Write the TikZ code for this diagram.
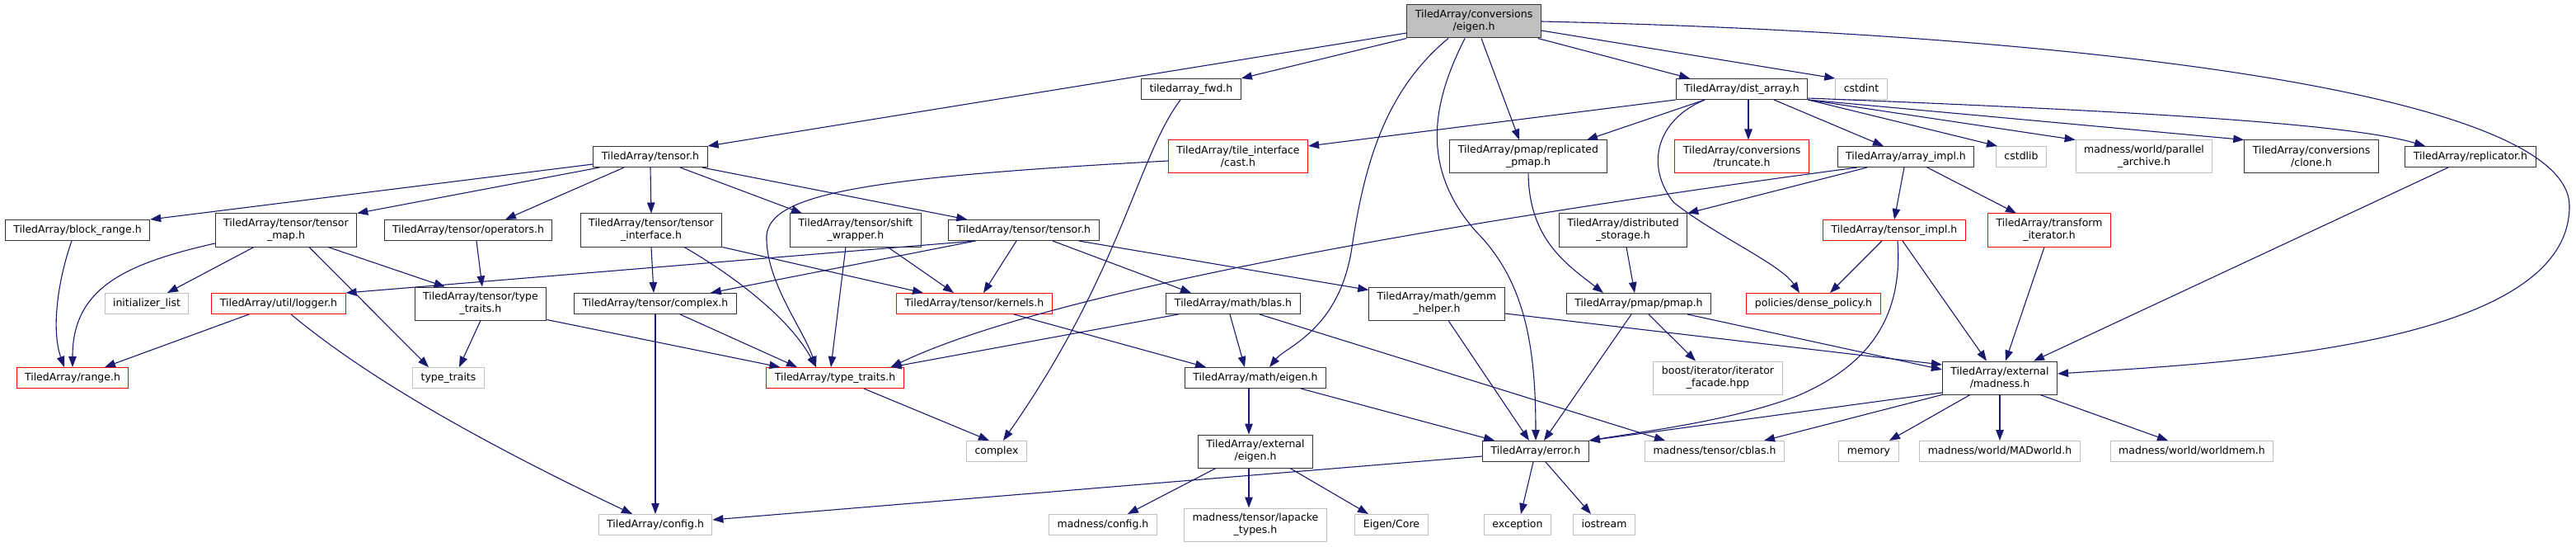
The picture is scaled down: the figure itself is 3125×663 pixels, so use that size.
\documentclass[tikz,border=0pt]{standalone}
\usepackage{fontspec}
\setmainfont{DejaVu Sans}
\usetikzlibrary{arrows.meta}
\definecolor{edgeblue}{HTML}{191970}
\definecolor{extgray}{HTML}{BFBFBF}
\definecolor{cutred}{HTML}{FF0000}

\begin{document}
\begin{tikzpicture}[x=1pt,y=-1pt,
  hbox/.style={draw=black!80, line width=1pt, font=\fontsize{12.5}{15}\selectfont,
    inner xsep=10pt, inner ysep=0pt, minimum height=25pt, text height=9.5pt, text depth=3pt},
  hbox2/.style={draw=black!80, line width=1pt, font=\fontsize{12.5}{15}\selectfont,
    inner xsep=10pt, inner ysep=0pt, minimum height=40pt, align=center},
  ext/.style={draw=extgray},
  cut/.style={draw=cutred},
  rootfill/.style={fill=extgray},
  incl/.style={draw=edgeblue, line width=1.1pt, -{Triangle[length=13pt,width=9.5pt]}}]
\useasboundingbox (0,0) rectangle (3125,663);
\node[hbox2, rootfill] (conv) at (1788,26) {TiledArray/conversions\\/eigen.h};
\node[hbox] (fwd) at (1445,108) {tiledarray\_fwd.h};
\node[hbox] (dist) at (2113,108) {TiledArray/dist\_array.h};
\node[hbox, ext] (cstdint) at (2258,108) {cstdint};
\node[hbox] (tensor) at (789,190) {TiledArray/tensor.h};
\node[hbox2, cut] (cast) at (1502,190) {TiledArray/tile\_interface\\/cast.h};
\node[hbox2] (reppmap) at (1854,190) {TiledArray/pmap/replicated\\\_pmap.h};
\node[hbox2, cut] (truncate) at (2113,190) {TiledArray/conversions\\/truncate.h};
\node[hbox] (arrayimpl) at (2312,190) {TiledArray/array\_impl.h};
\node[hbox, ext] (cstdlib) at (2452,190) {cstdlib};
\node[hbox2, ext] (archive) at (2601,190) {madness/world/parallel\\\_archive.h};
\node[hbox2] (clone) at (2804,190) {TiledArray/conversions\\/clone.h};
\node[hbox] (replicator) at (2997,190) {TiledArray/replicator.h};
\node[hbox] (blockrange) at (94,279) {TiledArray/block\_range.h};
\node[hbox2] (tensormap) at (347,279) {TiledArray/tensor/tensor\\\_map.h};
\node[hbox] (operators) at (568,279) {TiledArray/tensor/operators.h};
\node[hbox2] (tensoriface) at (790,279) {TiledArray/tensor/tensor\\\_interface.h};
\node[hbox2] (shiftwrap) at (1038,279) {TiledArray/tensor/shift\\\_wrapper.h};
\node[hbox] (tentensor) at (1242,279) {TiledArray/tensor/tensor.h};
\node[hbox2] (diststorage) at (1969,279) {TiledArray/distributed\\\_storage.h};
\node[hbox, cut] (tensorimpl) at (2298,279) {TiledArray/tensor\_impl.h};
\node[hbox2, cut] (transiter) at (2486,279) {TiledArray/transform\\\_iterator.h};
\node[hbox, ext] (initlist) at (178,368) {initializer\_list};
\node[hbox, cut] (logger) at (338,368) {TiledArray/util/logger.h};
\node[hbox2] (tentraits) at (583,368) {TiledArray/tensor/type\\\_traits.h};
\node[hbox] (tencomplex) at (795,368) {TiledArray/tensor/complex.h};
\node[hbox, cut] (kernels) at (1182,368) {TiledArray/tensor/kernels.h};
\node[hbox] (blas) at (1496,368) {TiledArray/math/blas.h};
\node[hbox2] (gemm) at (1743,368) {TiledArray/math/gemm\\\_helper.h};
\node[hbox] (pmap) at (1988,368) {TiledArray/pmap/pmap.h};
\node[hbox, cut] (densepolicy) at (2200,368) {policies/dense\_policy.h};
\node[hbox, cut] (range) at (88,458) {TiledArray/range.h};
\node[hbox, ext] (stdtraits) at (544,458) {type\_traits};
\node[hbox, cut] (typetraits) at (1013,458) {TiledArray/type\_traits.h};
\node[hbox] (matheigen) at (1523,458) {TiledArray/math/eigen.h};
\node[hbox2, ext] (boostfacade) at (2084,458) {boost/iterator/iterator\\\_facade.hpp};
\node[hbox2] (madness) at (2426,458) {TiledArray/external\\/madness.h};
\node[hbox, ext] (stdcomplex) at (1209,547) {complex};
\node[hbox2] (exteigen) at (1523,547) {TiledArray/external\\/eigen.h};
\node[hbox] (error) at (1863,547) {TiledArray/error.h};
\node[hbox, ext] (cblas) at (2080,547) {madness/tensor/cblas.h};
\node[hbox, ext] (memory) at (2267,547) {memory};
\node[hbox, ext] (madworld) at (2426,547) {madness/world/MADworld.h};
\node[hbox, ext] (worldmem) at (2659,547) {madness/world/worldmem.h};
\node[hbox, ext] (config) at (795,636) {TiledArray/config.h};
\node[hbox, ext] (madconfig) at (1338,636) {madness/config.h};
\node[hbox2, ext] (lapacke) at (1523,636) {madness/tensor/lapacke\\\_types.h};
\node[hbox, ext] (eigencore) at (1688,636) {Eigen/Core};
\node[hbox, ext] (exception) at (1841,636) {exception};
\node[hbox, ext] (iostream) at (1946,636) {iostream};
\draw[incl] ([yshift=-14pt]conv.west) -- (tensor.north east);
\draw[incl] (conv.south west) -- (fwd.north east);
\draw[incl] ([yshift=-11pt]conv.east) -- (cstdint.north west);
\draw[incl] ([xshift=-4pt]conv.south east) -- ([xshift=-63pt]dist.north);
\draw[incl] ([xshift=9pt]conv.south) -- ([xshift=-11pt]reppmap.north);
\draw[incl] ([xshift=-11pt]conv.south) .. controls (1740,120) and (1720,200) .. (1790,280) .. controls (1850,340) and (1863,420) .. (error.north);
\draw[incl] ([xshift=-31pt]conv.south) .. controls (1680,110) and (1655,200) .. (1640,300) .. controls (1625,400) and (1560,420) .. ([xshift=17pt]matheigen.north);
\draw[incl] (conv.east) .. controls (2500,40) and (3117,110) .. (3117,250) .. controls (3117,420) and (2700,440) .. ([yshift=5pt]madness.east);
\draw[incl] ([xshift=-13pt]fwd.south) .. controls (1380,190) and (1360,330) .. ([xshift=8pt]stdcomplex.north);
\draw[incl] (dist.south west) -- ([yshift=13pt]cast.east);
\draw[incl] ([xshift=-45pt]dist.south) -- ([xshift=71pt]reppmap.north);
\draw[incl] ([xshift=-45pt]dist.south) .. controls (2010,145) and (1995,200) .. (2030,245) .. controls (2080,285) and (2160,320) .. ([xshift=-17pt]densepolicy.north);
\draw[incl] ([xshift=8pt]dist.south) -- ([xshift=8pt]truncate.north);
\draw[incl] ([xshift=39pt]dist.south) -- ([xshift=-27pt]arrayimpl.north);
\draw[incl] (dist.south east) -- ([xshift=-29pt]cstdlib.north);
\draw[incl] (dist.south east) -- (archive.north west);
\draw[incl] (dist.south east) -- (clone.north west);
\draw[incl] ([yshift=2pt]dist.south east) .. controls (2600,135) and (2850,150) .. ([xshift=-55pt]replicator.north);
\draw[incl] ([yshift=-9pt]tensor.west) -- (blockrange.north east);
\draw[incl] ([xshift=8pt]tensor.south west) -- (tensormap.north east);
\draw[incl] ([xshift=-32pt]tensor.south) -- ([xshift=45pt]operators.north);
\draw[incl] (tensor.south) -- (tensoriface.north);
\draw[incl] ([xshift=36pt]tensor.south) -- ([xshift=-65pt]shiftwrap.north);
\draw[incl] ([xshift=-7pt]tensor.south east) -- ([xshift=23pt]tentensor.north west);
\draw[incl] ([yshift=-5pt]cast.west) .. controls (1050,215) and (935,235) .. (930,285) .. controls (928,340) and (975,400) .. ([xshift=-23pt]typetraits.north);
\draw[incl] (reppmap.south) .. controls (1855,290) and (1900,320) .. ([xshift=-43pt]pmap.north);
\draw[incl] ([xshift=-59pt]arrayimpl.south) .. controls (1900,250) and (1300,340) .. ([xshift=-16pt]typetraits.north east);
\draw[incl] ([xshift=-47pt]arrayimpl.south) -- (diststorage.north east);
\draw[incl] ([xshift=-2pt]arrayimpl.south) -- (tensorimpl.north);
\draw[incl] ([xshift=26pt]arrayimpl.south) -- ([xshift=-40pt]transiter.north);
\draw[incl] ([xshift=-27pt]replicator.south) -- ([xshift=41pt]madness.north);
\draw[incl] ([xshift=-7pt]blockrange.south) .. controls (70,340) and (62,400) .. ([xshift=-10pt]range.north);
\draw[incl] ([yshift=-16pt]tensormap.west) .. controls (150,320) and (88,350) .. (range.north);
\draw[incl] ([xshift=-39pt]tensormap.south) -- ([xshift=25pt]initlist.north);
\draw[incl] ([xshift=28pt]tensormap.south) -- ([xshift=-24pt]stdtraits.north);
\draw[incl] ([xshift=51pt]tensormap.south) -- ([xshift=37pt]tentraits.north west);
\draw[incl] ([xshift=10pt]operators.south) -- ([xshift=2pt]tentraits.north);
\draw[incl] (tensoriface.south) -- ([xshift=-2pt]tencomplex.north);
\draw[incl] ([xshift=40pt]tensoriface.south) .. controls (900,340) and (960,390) .. ([xshift=-23pt]typetraits.north);
\draw[incl] (tensoriface.south east) -- ([xshift=-62pt]kernels.north);
\draw[incl] ([xshift=-12pt]shiftwrap.south) -- ([xshift=-5pt]typetraits.north);
\draw[incl] ([xshift=39pt]shiftwrap.south) -- ([xshift=-25pt]kernels.north);
\draw[incl] ([xshift=33pt]tentensor.south west) -- (logger.north east);
\draw[incl] ([xshift=33pt]tentensor.south west) -- ([xshift=-32pt]tencomplex.north east);
\draw[incl] ([xshift=-9pt]tentensor.south) -- ([xshift=11pt]kernels.north);
\draw[incl] ([xshift=35pt]tentensor.south) -- ([xshift=-51pt]blas.north);
\draw[incl] ([xshift=-25pt]tentensor.south east) -- ([yshift=-4pt]gemm.north west);
\draw[incl] ([xshift=4pt]diststorage.south) -- ([xshift=-5pt]pmap.north);
\draw[incl] ([xshift=-15pt]tensorimpl.south) -- ([xshift=20pt]densepolicy.north);
\draw[incl] ([xshift=4pt]tensorimpl.south) .. controls (2310,400) and (2250,450) .. (2180,480) .. controls (2100,510) and (2000,522) .. (error.north east);
\draw[incl] ([xshift=10pt]tensorimpl.south) -- ([xshift=-16pt]madness.north);
\draw[incl] ([xshift=-6pt]transiter.south) -- ([xshift=7pt]madness.north);
\draw[incl] ([xshift=-36pt]logger.south) -- ([xshift=39pt]range.north);
\draw[incl] ([xshift=15pt]logger.south) .. controls (430,445) and (550,520) .. ([xshift=-28pt]config.north);
\draw[incl] (tentraits.south) -- ([xshift=13pt]stdtraits.north);
\draw[incl] ([yshift=1pt]tentraits.south east) -- ([xshift=17pt]typetraits.north west);
\draw[incl] (tencomplex.south) -- (config.north);
\draw[incl] ([xshift=30pt]tencomplex.south) -- ([xshift=-46pt]typetraits.north);
\draw[incl] ([xshift=48pt]kernels.south) -- ([xshift=-60pt]matheigen.north);
\draw[incl] ([xshift=15pt]blas.south west) -- ([xshift=-16pt]typetraits.north east);
\draw[incl] ([xshift=-4pt]blas.south) -- ([xshift=-13pt]matheigen.north);
\draw[incl] ([xshift=32pt]blas.south) -- ([xshift=-60pt]cblas.north);
\draw[incl] ([xshift=14pt]gemm.south) -- ([xshift=-8pt]error.north);
\draw[incl] ([yshift=-12pt]gemm.east) -- ([yshift=16pt]madness.west);
\draw[incl] ([xshift=-9pt]pmap.south) -- ([xshift=10pt]error.north);
\draw[incl] ([xshift=12pt]pmap.south) -- ([xshift=-27pt]boostfacade.north);
\draw[incl] ([xshift=-29pt]pmap.south east) -- ([yshift=10pt]madness.west);
\draw[incl] ([xshift=35pt]typetraits.south) -- ([xshift=-9pt]stdcomplex.north);
\draw[incl] ([xshift=-8pt]matheigen.south) -- ([xshift=-8pt]exteigen.north);
\draw[incl] ([xshift=55pt]matheigen.south) -- ([xshift=15pt]error.north west);
\draw[incl] ([xshift=-48pt]exteigen.south) -- ([xshift=30pt]madconfig.north);
\draw[incl] ([xshift=-8pt]exteigen.south) -- ([xshift=-8pt]lapacke.north);
\draw[incl] ([xshift=42pt]exteigen.south) -- ([xshift=-28pt]eigencore.north);
\draw[incl] ([yshift=-6pt]error.west) -- ([yshift=6pt]config.east);
\draw[incl] ([xshift=-3pt]error.south) -- ([xshift=4pt]exception.north);
\draw[incl] ([xshift=12pt]error.south) -- ([xshift=-16pt]iostream.north);
\draw[incl] ([yshift=-18pt]madness.west) -- (error.north east);
\draw[incl] (madness.south west) -- ([xshift=60pt]cblas.north);
\draw[incl] ([xshift=-36pt]madness.south) -- ([xshift=25pt]memory.north);
\draw[incl] (madness.south) -- (madworld.north);
\draw[incl] ([xshift=49pt]madness.south) -- ([xshift=-29pt]worldmem.north);
\end{tikzpicture}
\end{document}
